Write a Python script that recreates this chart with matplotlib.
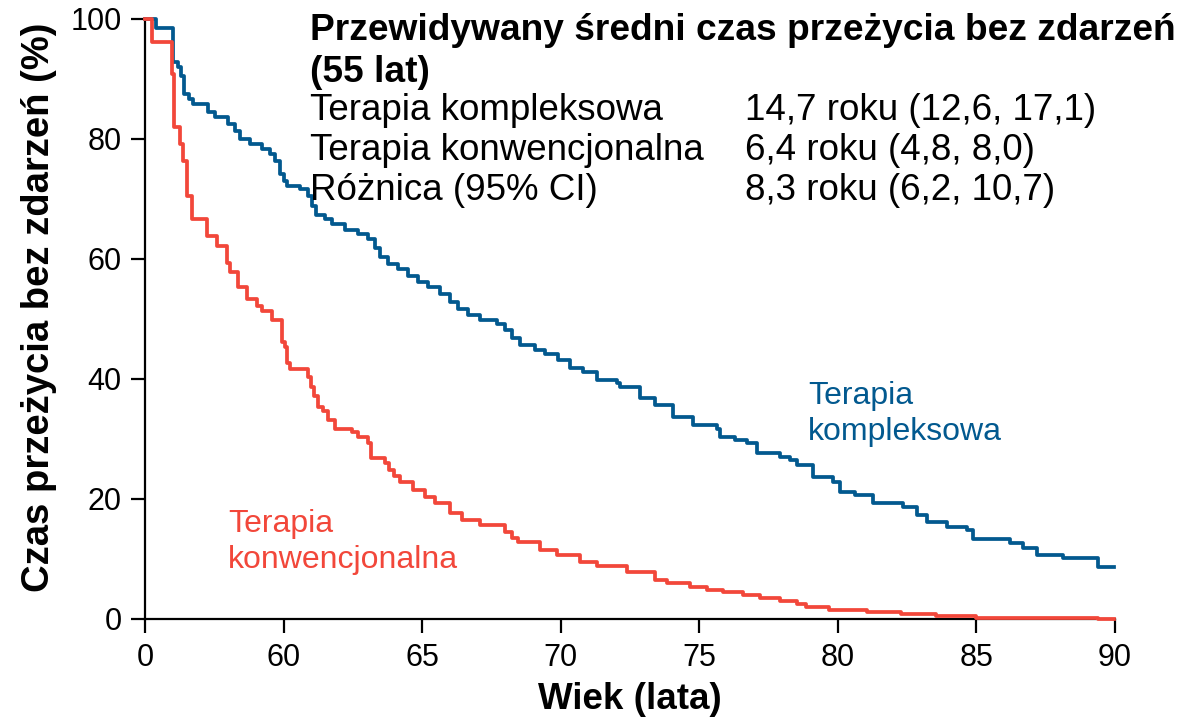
import matplotlib
matplotlib.use("Agg")
import matplotlib.pyplot as plt

plt.rcParams['font.family'] = ['Liberation Sans', 'DejaVu Sans']

# Terapia kompleksowa (blue) step curve: age (years), event-free survival (%)
blue_age = [55.0, 55.40, 56.01, 56.19, 56.30, 56.41, 56.59, 56.73, 57.27, 57.53,
            58.00, 58.25, 58.43, 58.79, 59.22, 59.51, 59.69, 59.87, 60.02, 60.12,
            60.59, 60.88, 61.03, 61.17, 61.50, 61.75, 62.22, 62.69, 63.05, 63.30,
            63.48, 63.77, 64.13, 64.49, 64.85, 65.21, 65.65, 66.01, 66.30, 66.66,
            67.09, 67.70, 67.99, 68.24, 68.53, 69.07, 69.43, 69.90, 70.34, 70.81,
            71.31, 72.03, 72.14, 72.86, 73.40, 74.05, 74.78, 75.64, 75.75, 76.29,
            76.72, 77.08, 77.92, 78.28, 78.53, 79.11, 79.83, 80.08, 80.62, 81.27,
            82.35, 82.86, 83.22, 83.94, 84.66, 84.88, 86.22, 86.68, 87.19, 88.13,
            89.39, 89.95]
blue_surv = [100.0, 98.5, 92.8, 92.0, 90.5, 87.5, 86.6, 85.8, 84.5, 83.6,
             82.5, 81.3, 80.0, 79.1, 78.3, 77.5, 76.3, 74.1, 73.0, 72.1,
             71.6, 70.5, 68.8, 67.4, 66.6, 65.8, 64.9, 64.1, 63.3, 61.9,
             60.3, 59.1, 58.3, 57.1, 56.1, 55.3, 54.1, 52.8, 51.6, 50.6,
             49.9, 49.2, 48.2, 46.9, 45.7, 44.9, 44.1, 43.2, 41.9, 41.1,
             39.9, 39.4, 38.6, 36.9, 35.7, 33.7, 32.4, 31.6, 30.4, 29.9,
             29.4, 27.7, 27.0, 26.5, 25.7, 23.7, 22.9, 21.2, 20.7, 19.4,
             18.7, 17.4, 16.2, 15.4, 14.9, 13.4, 12.7, 11.9, 10.7, 10.2,
             8.7, 8.7]

# Terapia konwencjonalna (red) step curve
red_age = [55.0, 55.25, 55.97, 56.05, 56.26, 56.37, 56.52, 56.70, 57.24, 57.60,
           57.96, 58.07, 58.36, 58.68, 59.04, 59.22, 59.58, 59.94, 60.05, 60.12,
           60.23, 60.88, 60.99, 61.10, 61.24, 61.42, 61.60, 61.86, 62.47, 62.69,
           63.05, 63.16, 63.66, 63.81, 63.99, 64.20, 64.67, 65.10, 65.47, 66.01,
           66.44, 67.09, 67.99, 68.24, 68.46, 69.25, 69.87, 70.70, 71.31, 72.39,
           73.40, 73.84, 74.67, 75.28, 75.86, 76.58, 77.19, 77.92, 78.53, 78.85,
           79.68, 81.05, 82.28, 83.55, 85.00, 89.40, 89.95]
red_surv = [100.0, 96.2, 90.8, 82.0, 79.1, 76.3, 70.5, 66.6, 63.8, 62.1,
            59.4, 57.8, 55.4, 53.3, 52.1, 51.3, 49.9, 46.1, 45.4, 42.7,
            41.7, 40.4, 38.7, 37.1, 35.4, 34.6, 33.2, 31.6, 31.1, 30.4,
            29.4, 26.9, 26.0, 24.9, 23.9, 22.9, 21.5, 20.4, 19.4, 17.7,
            16.5, 15.7, 14.5, 13.5, 12.9, 11.5, 10.7, 9.5, 8.8, 7.8,
            6.5, 6.0, 5.3, 4.8, 4.5, 4.0, 3.5, 3.0, 2.5, 2.0,
            1.5, 1.2, 0.8, 0.5, 0.2, 0.0, 0.0]

x_ticks = [55, 60, 65, 70, 75, 80, 85, 90]
x_tick_labels = ["0", "60", "65", "70", "75", "80", "85", "90"]
y_ticks = [0, 20, 40, 60, 80, 100]

blue = "#02598F"
red = "#F2473A"

fig = plt.figure(figsize=(11.8, 7.21), dpi=100)
ax = fig.add_axes([145/1180, 1 - 619/721, 970/1180, 600/721])

ax.step(blue_age, blue_surv, where='post', color=blue, lw=2.7, clip_on=False, zorder=3)
ax.step(red_age, red_surv, where='post', color=red, lw=2.7, clip_on=False, zorder=3)

ax.set_xlim(55, 90)
ax.set_ylim(0, 100)
ax.set_xticks(x_ticks)
ax.set_xticklabels(x_tick_labels)
ax.set_yticks(y_ticks)
for s in ['top', 'right']:
    ax.spines[s].set_visible(False)
for s in ['left', 'bottom']:
    ax.spines[s].set_linewidth(1.6)
ax.tick_params(axis='both', length=10, width=1.6, labelsize=22, pad=7, direction='out')

ax.set_xlabel("Wiek (lata)", fontsize=26.5, fontweight='bold', labelpad=7)
ax.set_ylabel("Czas przeżycia bez zdarzeń (%)", fontsize=27.5, fontweight='bold')
ax.yaxis.set_label_coords(-88/970, 0.52)

def ft(xp, yp, s, **kw):
    fig.text(xp/1180, 1 - yp/721, s, va='center', ha='left', **kw)

ft(310, 31, "Przewidywany średni czas przeżycia bez zdarzeń", fontsize=26.7, fontweight='bold')
ft(310, 72, "(55 lat)", fontsize=26.7, fontweight='bold')
ft(310, 111, "Terapia kompleksowa", fontsize=26.5)
ft(310, 151, "Terapia konwencjonalna", fontsize=26.5)
ft(310, 191, "Różnica (95% CI)", fontsize=26.5)
ft(745, 111, "14,7 roku (12,6, 17,1)", fontsize=26.5)
ft(745, 151, "6,4 roku (4,8, 8,0)", fontsize=26.5)
ft(745, 191, "8,3 roku (6,2, 10,7)", fontsize=26.5)

ft(808, 396, "Terapia", fontsize=23, color=blue)
ft(808, 432, "kompleksowa", fontsize=23, color=blue)
ft(228, 524, "Terapia", fontsize=23, color=red)
ft(228, 560, "konwencjonalna", fontsize=23, color=red)

fig.savefig("out.png", dpi=100)
